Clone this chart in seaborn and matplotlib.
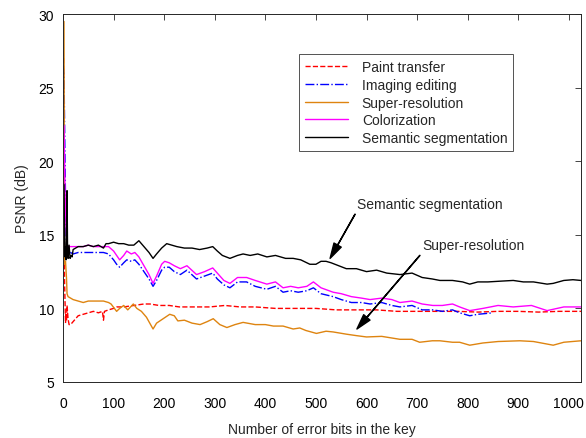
import matplotlib
matplotlib.use("Agg")
import matplotlib.pyplot as plt
import seaborn as sns

# values (bits, PSNR dB)
paint_x = [0, 1, 2, 3, 4, 5, 6, 7, 8, 10, 12, 15, 20, 25, 30, 40, 50, 60, 70, 78, 80, 82, 90,
           100, 106, 120, 140, 160, 172, 190, 210, 230, 260, 290, 320, 350, 380, 420, 460, 500,
           540, 580, 620, 660, 700, 740, 780, 820, 860, 900, 940, 980, 1024]
paint_y = [27.5, 27.0, 20.0, 12.0, 10.5, 9.0, 9.6, 9.2, 10.2, 9.3, 8.9, 8.9, 9.1, 9.3, 9.5, 9.6, 9.7,
           9.8, 9.7, 9.8, 9.2, 9.8, 9.9, 10.0, 10.1, 10.1, 10.2, 10.3, 10.3, 10.2, 10.2, 10.1, 10.1,
           10.1, 10.2, 10.1, 10.1, 10.0, 10.0, 10.0, 9.9, 9.9, 9.9, 9.8, 9.8, 9.8, 9.8, 9.75, 9.8,
           9.8, 9.75, 9.8, 9.8]

edit_x = [0, 2, 4, 6, 8, 10, 15, 20, 30, 40, 50, 60, 70, 80, 90, 100, 106, 112, 120, 126, 135, 142,
          150, 160, 170, 178, 185, 195, 201, 210, 220, 232, 245, 264, 280, 296, 305, 318, 330, 345,
          363, 380, 403, 420, 435, 450, 465, 482, 495, 510, 534, 550, 570, 590, 607, 630, 650, 666,
          690, 710, 731, 750, 770, 784, 804, 820, 835, 850]
edit_y = [26.5, 26.0, 20.0, 15.0, 13.8, 13.7, 13.8, 13.7, 13.8, 13.8, 13.8, 13.8, 13.8, 13.8, 13.7,
          13.3, 13.0, 12.8, 13.1, 13.3, 13.2, 13.3, 13.0, 12.5, 12.0, 11.5, 11.9, 12.6, 12.8, 12.8,
          12.5, 12.3, 12.6, 12.0, 12.2, 12.4, 12.0, 11.6, 11.4, 11.8, 11.8, 11.5, 11.3, 11.5, 11.1,
          11.2, 11.1, 11.2, 11.4, 11.0, 10.8, 10.6, 10.4, 10.4, 10.3, 10.4, 10.2, 10.1, 10.2, 9.9,
          9.9, 9.8, 9.9, 9.7, 9.5, 9.6, 9.65, 9.7]

super_x = [0, 2, 3, 5, 7, 8, 10, 15, 20, 30, 40, 50, 60, 70, 80, 90, 95, 106, 112, 120, 128, 139,
           146, 155, 165, 178, 185, 198, 211, 220, 227, 240, 255, 271, 285, 297, 310, 324, 340, 356,
           380, 400, 416, 435, 455, 468, 480, 501, 520, 534, 560, 580, 600, 630, 666, 690, 705, 730,
           745, 770, 784, 804, 830, 860, 903, 930, 969, 990, 1024]
super_y = [29.5, 29.5, 13.0, 13.2, 12.0, 11.0, 10.8, 10.7, 10.6, 10.5, 10.4, 10.5, 10.5, 10.5, 10.5,
           10.4, 10.3, 9.8, 10.0, 10.2, 9.9, 10.3, 10.0, 9.8, 9.4, 8.6, 9.0, 9.3, 9.6, 9.5, 9.15, 9.2,
           9.0, 8.9, 9.1, 9.3, 8.9, 8.7, 8.9, 9.05, 8.9, 8.9, 8.8, 8.8, 8.6, 8.67, 8.5, 8.3, 8.45,
           8.4, 8.25, 8.15, 8.06, 8.1, 7.9, 7.9, 7.7, 7.8, 7.8, 7.7, 7.7, 7.5, 7.65, 7.75, 7.8, 7.75,
           7.5, 7.7, 7.8]

color_x = [0, 2, 4, 6, 8, 10, 15, 20, 30, 40, 50, 60, 70, 80, 90, 100, 106, 112, 120, 126, 135, 142,
           150, 160, 170, 178, 185, 195, 201, 210, 220, 232, 245, 264, 280, 296, 305, 318, 330, 345,
           363, 380, 403, 420, 435, 450, 465, 482, 495, 510, 534, 550, 570, 590, 607, 630, 650, 666,
           690, 710, 731, 750, 770, 784, 804, 830, 860, 890, 926, 957, 990, 1024]
color_y = [22.5, 22.4, 18.0, 15.5, 14.3, 14.2, 14.2, 14.2, 14.2, 14.2, 14.3, 14.2, 14.2, 14.2, 14.2,
           13.9, 13.6, 13.3, 13.6, 13.9, 13.7, 13.8, 13.5, 12.9, 12.3, 11.7, 12.2, 13.0, 13.2, 13.1,
           12.9, 12.7, 12.9, 12.3, 12.5, 12.75, 12.4, 11.9, 11.7, 12.1, 12.1, 11.9, 11.65, 11.8,
           11.4, 11.5, 11.4, 11.5, 11.8, 11.4, 11.1, 11.0, 10.8, 10.7, 10.6, 10.7, 10.6, 10.4, 10.5,
           10.3, 10.2, 10.2, 10.3, 10.1, 9.85, 10.0, 10.2, 10.1, 10.2, 9.85, 10.1, 10.1]

seg_x = [0, 2, 3, 4, 5, 6, 7, 8, 9, 10, 12, 14, 16, 18, 20, 25, 30, 40, 50, 60, 70, 80, 85, 90, 100,
         110, 120, 130, 140, 150, 160, 170, 178, 185, 195, 205, 215, 225, 240, 255, 270, 285, 296,
         305, 315, 330, 345, 356, 370, 385, 403, 420, 440, 455, 470, 488, 500, 510, 520, 530, 545,
         560, 580, 600, 620, 640, 666, 690, 710, 730, 745, 770, 790, 804, 820, 840, 864, 890, 910,
         930, 957, 969, 990, 1008, 1024]
seg_y = [18.5, 18.4, 15.0, 13.5, 14.2, 13.3, 15.5, 18.0, 14.0, 13.4, 14.3, 13.4, 13.6, 13.5, 14.0,
         14.1, 14.2, 14.2, 14.3, 14.2, 14.3, 14.1, 14.4, 14.4, 14.5, 14.4, 14.4, 14.3, 14.3, 14.6,
         14.2, 13.8, 13.4, 13.7, 14.1, 14.4, 14.3, 14.2, 14.1, 14.1, 14.0, 14.1, 14.2, 13.9, 13.6,
         13.4, 13.6, 13.7, 13.6, 13.7, 13.5, 13.6, 13.4, 13.4, 13.3, 13.0, 13.0, 13.2, 13.2, 13.1,
         12.9, 12.7, 12.7, 12.5, 12.6, 12.4, 12.3, 12.4, 12.1, 12.0, 11.9, 11.9, 11.8, 11.65, 11.8,
         11.8, 11.85, 11.9, 11.8, 11.8, 11.65, 11.7, 11.9, 11.95, 11.9]

sns.set_style("white")
plt.rcParams["font.family"] = ["Liberation Sans", "DejaVu Sans"]
plt.rcParams["font.size"] = 10

fig = plt.figure(figsize=(5.86, 4.39), dpi=100)
ax = fig.add_axes([0.1075, 0.1276, 0.884, 0.838])

sns.lineplot(x=paint_x, y=paint_y, ax=ax, color="#FF0000", linestyle="--", lw=1.0, label="Paint transfer")
sns.lineplot(x=edit_x, y=edit_y, ax=ax, color="#0000FF", linestyle="-.", lw=1.0, label="Imaging editing")
sns.lineplot(x=super_x, y=super_y, ax=ax, color="#DE8410", lw=1.0, label="Super-resolution")
sns.lineplot(x=color_x, y=color_y, ax=ax, color="#FF00FF", lw=1.0, label="Colorization")
sns.lineplot(x=seg_x, y=seg_y, ax=ax, color="black", lw=1.0, label="Semantic segmentation")

ax.set_xlim(0, 1024)
ax.set_ylim(5, 30)
ax.set_xticks(range(0, 1001, 100))
ax.set_yticks(range(5, 31, 5))
ax.tick_params(direction="in", top=True, right=True, length=4, width=0.6, colors="#262626",
               labelcolor="black", labelsize=10)
ax.tick_params(axis="x", pad=10)
ax.tick_params(axis="y", pad=6.5)
for sp in ax.spines.values():
    sp.set_color("#262626")
    sp.set_linewidth(0.7)

ax.set_xlabel("Number of error bits in the key", fontsize=10, labelpad=8.5)
ax.set_ylabel("PSNR (dB)", fontsize=10, labelpad=7)

leg = ax.legend(loc="upper left", bbox_to_anchor=(0.4556, 0.891), borderaxespad=0, frameon=True,
                fancybox=False, edgecolor="#262626", handlelength=3.1, handletextpad=1.0,
                labelspacing=0.27, borderpad=0.42, fontsize=10)
leg.get_frame().set_linewidth(0.7)

arrow = dict(facecolor="black", edgecolor="black", width=0.2, headwidth=6, headlength=11, shrink=0)
ax.annotate("Semantic segmentation", xy=(528, 13.4), xytext=(581, 17.1), fontsize=10,
            va="center", ha="left", arrowprops=arrow)
ax.annotate("Super-resolution", xy=(581, 8.6), xytext=(711, 14.3), fontsize=10,
            va="center", ha="left", arrowprops=arrow)

fig.savefig("out.png", dpi=100)
